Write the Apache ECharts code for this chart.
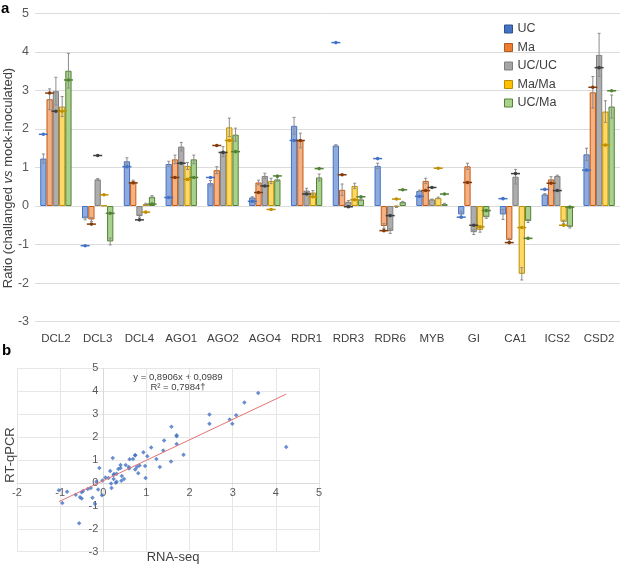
<!DOCTYPE html>
<html><head><meta charset="utf-8">
<script src="https://cdn.jsdelivr.net/npm/echarts@6/dist/echarts.min.js"></script>
<style>html,body{margin:0;padding:0;background:#fff}#c{width:620px;height:565px}</style>
</head><body><div id="c"></div>
<script>
const categories = ['DCL2','DCL3','DCL4','AGO1','AGO2','AGO4','RDR1','RDR3','RDR6','MYB','GI','CA1','ICS2','CSD2'];
const seriesNames = ['UC','Ma','UC/UC','Ma/Ma','UC/Ma'];

// RT-qPCR ratios (bars)
const qpcrUC   = [1.23,-0.32,1.16,1.09,0.59,0.22,2.08,1.57,1.04,0.39,-0.22,-0.22,0.30,1.34];
const qpcrMa   = [2.77,-0.35,0.63,1.21,0.93,0.61,1.70,0.42,-0.52,0.65,1.03,-0.88,0.69,2.95];
const qpcrUCUC = [2.98,0.69,-0.26,1.54,1.41,0.78,0.40,0.11,-0.65,0.17,-0.68,0.76,0.78,3.92];
const qpcrMaMa = [2.58,0.01,0.05,1.04,2.04,0.65,0.35,0.52,-0.02,0.21,-0.62,-1.76,-0.41,2.45];
const qpcrUCMa = [3.51,-0.92,0.24,1.21,1.85,0.69,0.74,0.17,0.10,0.05,-0.29,-0.39,-0.54,2.58];

// error bars
const errUC   = [0.12,0.04,0.09,0.07,0.07,0.02,0.22,0.02,0.07,0.02,0.08,0.13,0.02,0.16];
const errMa   = [0.27,0.05,0.04,0.11,0.09,0.06,0.19,0.15,0.06,0.07,0.08,0.04,0.07,0.41];
const errUCUC = [0.36,0.02,0.03,0.11,0.13,0.07,0.06,0.03,0.06,0.01,0.06,0.19,0.02,0.56];
const errMaMa = [0.26,0.00,0.02,0.09,0.24,0.07,0.05,0.07,0.02,0.02,0.06,0.16,0.04,0.28];
const errUCMa = [0.45,0.09,0.03,0.11,0.17,0.05,0.09,0.03,0.02,0.02,0.03,0.04,0.03,0.30];

// RNA-seq ratios (markers)
const rnaUC   = [1.86,-1.03,1.02,0.22,0.74,0.12,1.70,4.24,1.23,0.25,-0.29,0.19,0.43,0.93];
const rnaMa   = [2.93,-0.47,0.60,0.74,1.57,0.35,1.70,0.81,-0.64,0.40,0.61,-0.95,0.59,3.08];
const rnaUCUC = [2.46,1.31,-0.36,1.11,1.39,0.52,0.31,-0.02,-0.25,0.48,-0.50,0.84,0.40,3.59];
const rnaMaMa = [2.46,0.29,-0.16,0.69,1.70,-0.09,0.24,0.16,0.18,0.98,-0.54,-0.56,-0.50,1.58];
const rnaUCMa = [3.27,-0.19,0.05,0.74,1.41,0.78,0.97,0.24,0.42,0.31,-0.12,-0.84,-0.03,2.99];

const yTicksA = [-3,-2,-1,0,1,2,3,4,5];
const trendSlope = 0.8906, trendIntercept = 0.0989;
const eqLine1 = 'y = 0,8906x + 0,0989';
const eqLine2 = 'R² = 0,7984†';

const qpcr = [qpcrUC,qpcrMa,qpcrUCUC,qpcrMaMa,qpcrUCMa];
const errs = [errUC,errMa,errUCUC,errMaMa,errUCMa];
const rna  = [rnaUC,rnaMa,rnaUCUC,rnaMaMa,rnaUCMa];

const barFill   = ['#8FAADC','#F4B183','#ADADAD','#FFD966','#A9D18E'];
const barBorder = ['#4472C4','#C55A11','#7F7F7F','#BF9000','#548235'];
const markColor = ['#4472C4','#843C0C','#404040','#BF9000','#548235'];
const legendFill= ['#4472C4','#ED7D31','#A5A5A5','#FFC000','#A9D18E'];
const legendBorder=['#2F528F','#AE5A21','#7F7F7F','#BC8C00','#548235'];
const GAP = 0.25;
const FONT = 'Liberation Sans, Arial, sans-serif';

// scatter panel geometry
const SX_MIN = -2, SX_MAX = 5, SY_MIN = -3, SY_MAX = 5;
const S_LEFT = 17, S_TOP = 368.3, S_W = 302, S_H = 183.4;

function makeRender(i){
  return function(params, api){
    const ci = api.value(0), v = api.value(1), e = api.value(2), r = api.value(3);
    const band = api.size([1,0])[0];
    const gw = band*(1-GAP), bw = gw/5;
    const cx = api.coord([ci,0])[0] - gw/2 + bw*(i+0.5);
    const children = [];
    if (e > 0) {
      const yHi = api.coord([ci, v+e])[1], yLo = api.coord([ci, v-e])[1];
      const st = {stroke:'#8C8C8C', lineWidth:1};
      children.push({type:'line', shape:{x1:cx,y1:yHi,x2:cx,y2:yLo}, style:st});
      children.push({type:'line', shape:{x1:cx-1.5,y1:yHi,x2:cx+1.5,y2:yHi}, style:st});
      children.push({type:'line', shape:{x1:cx-1.5,y1:yLo,x2:cx+1.5,y2:yLo}, style:st});
    }
    const yr = api.coord([ci, r])[1];
    children.push({type:'line', shape:{x1:cx-4.5,y1:yr,x2:cx+4.5,y2:yr}, style:{stroke:markColor[i], lineWidth:1.5}});
    children.push({type:'circle', shape:{cx:cx,cy:yr,r:1.8}, style:{fill:markColor[i]}});
    return {type:'group', children};
  };
}

const series = [];
seriesNames.forEach((n,i)=>{
  series.push({
    name:n, type:'bar', xAxisIndex:0, yAxisIndex:0,
    data: qpcr[i], barGap:'0%', barCategoryGap:(GAP*100)+'%',
    itemStyle:{color:barFill[i], borderColor:barBorder[i], borderWidth:1},
    emphasis:{disabled:true}
  });
});
seriesNames.forEach((n,i)=>{
  series.push({
    name:n+'_marks', type:'custom', xAxisIndex:0, yAxisIndex:0, z:5,
    renderItem: makeRender(i),
    encode:{x:0, y:1},
    data: categories.map((c,ci)=>[ci, qpcr[i][ci], errs[i][ci], rna[i][ci]])
  });
});

const scatterData = [];
for (let s=0;s<5;s++) for (let c=0;c<categories.length;c++) scatterData.push([rna[s][c], qpcr[s][c]]);
const xs = scatterData.map(d=>d[0]);
const xMin = Math.min(...xs), xMax = Math.max(...xs);
series.push({
  type:'line', xAxisIndex:1, yAxisIndex:1, symbol:'none', silent:true,
  lineStyle:{color:'#E57373', width:1},
  data:[[xMin, trendSlope*xMin+trendIntercept],[xMax, trendSlope*xMax+trendIntercept]]
});
series.push({
  type:'scatter', xAxisIndex:1, yAxisIndex:1, symbol:'diamond', symbolSize:4.5,
  itemStyle:{color:'#4472C4'}, data:scatterData
});

// axes cross at zero: offset from the default (bottom/left) positions
const xAxisOffset = -S_H * (0 - SY_MIN) / (SY_MAX - SY_MIN);
const yAxisOffset = -S_W * (0 - SX_MIN) / (SX_MAX - SX_MIN);

const option = {
  backgroundColor:'#fff',
  animation:false,
  textStyle:{fontFamily:FONT},
  grid:[
    {left:35, right:0, top:13.3, height:308.3},
    {left:S_LEFT, top:S_TOP, width:S_W, height:S_H}
  ],
  legend:{
    orient:'vertical', left:499, top:17, itemWidth:8, itemHeight:8, itemGap:4.5,
    textStyle:{fontSize:12.5, color:'#404040', fontFamily:FONT, lineHeight:14, padding:[0,0,0,0]},
    itemStyle:{},
    selectedMode:false,
    data: seriesNames.map((n,i)=>({name:n, icon:'rect', itemStyle:{color:legendFill[i], borderColor:legendBorder[i], borderWidth:1}}))
  },
  xAxis:[
    {type:'category', gridIndex:0, data:categories,
     axisLine:{show:false}, axisTick:{show:false},
     axisLabel:{fontSize:11.5, color:'#404040', margin:11, interval:0}},
    {type:'value', gridIndex:1, min:SX_MIN, max:SX_MAX, interval:1, offset:xAxisOffset,
     axisLine:{show:true, onZero:false, lineStyle:{color:'#D9D9D9'}}, axisTick:{show:false},
     splitLine:{lineStyle:{color:'#E6E6E6'}},
     axisLabel:{fontSize:11, color:'#595959', margin:5}}
  ],
  yAxis:[
    {type:'value', gridIndex:0, min:-3, max:5, interval:1,
     axisLine:{show:false}, axisTick:{show:false},
     splitLine:{lineStyle:{color:'#DCDCDC'}},
     axisLabel:{fontSize:12.5, color:'#595959', margin:6,
       formatter:(v)=> yTicksA.includes(v) ? String(v) : ''}},
    {type:'value', gridIndex:1, min:SY_MIN, max:SY_MAX, interval:1, offset:yAxisOffset,
     axisLine:{show:true, onZero:false, lineStyle:{color:'#D9D9D9'}}, axisTick:{show:false},
     splitLine:{lineStyle:{color:'#E6E6E6'}},
     axisLabel:{fontSize:11, color:'#595959', margin:5}}
  ],
  graphic:[
    {type:'text', left:1, top:1, style:{text:'a', font:'bold 15px '+FONT, fill:'#000'}},
    {type:'text', left:2, top:343, style:{text:'b', font:'bold 15px '+FONT, fill:'#000'}},
    {type:'text', x:8, y:178, rotation:Math.PI/2,
     style:{text:'{n|Ratio (challanged }{i|vs}{n| mock-inoculated)}', align:'center', verticalAlign:'middle',
       rich:{n:{fontSize:13, fill:'#404040', fontFamily:FONT}, i:{fontSize:13, fill:'#404040', fontStyle:'italic', fontFamily:FONT}}}},
    {type:'text', x:10, y:455, rotation:Math.PI/2,
     style:{text:'RT-qPCR', font:'13px '+FONT, fill:'#404040', align:'center', verticalAlign:'middle'}},
    {type:'text', x:173, y:557,
     style:{text:'RNA-seq', font:'13px '+FONT, fill:'#404040', align:'center', verticalAlign:'middle'}},
    {type:'text', x:178, y:377,
     style:{text:eqLine1, font:'9.5px '+FONT, fill:'#404040', align:'center', verticalAlign:'middle'}},
    {type:'text', x:178, y:387,
     style:{text:eqLine2, font:'9.5px '+FONT, fill:'#404040', align:'center', verticalAlign:'middle'}}
  ],
  series
};
const chart = echarts.init(document.getElementById('c'), null, {renderer:'canvas'});
chart.setOption(option);
</script></body></html>
